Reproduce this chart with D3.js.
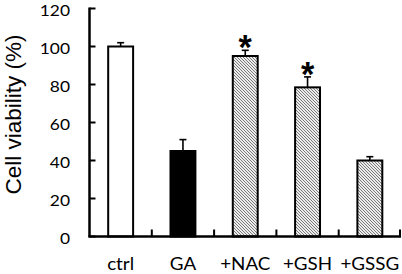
<!DOCTYPE html>
<html><head><meta charset="utf-8">
<script src="https://cdn.jsdelivr.net/npm/d3@7"></script>
<style>html,body{margin:0;padding:0;background:#fff;}svg{display:block;}</style>
</head><body>
<script>
const categories = ["ctrl", "GA", "+NAC", "+GSH", "+GSSG"];
const values = [100, 45, 95, 78.5, 40];
const errors = [2, 6, 3, 5.5, 2];
const fills = ["white", "black", "hatch", "hatch", "hatch"];
const significant = [false, false, true, true, false];
const yTicks = [0, 20, 40, 60, 80, 100, 120];
const yLabel = "Cell viability (%)";

const W = 402, H = 274;
const svg = d3.select("body").append("svg").attr("width", W).attr("height", H);

const defs = svg.append("defs");
const pat = defs.append("pattern").attr("id", "hatch").attr("patternUnits", "userSpaceOnUse")
  .attr("width", 3).attr("height", 3);
pat.append("rect").attr("width", 3).attr("height", 3).attr("fill", "#ececec");
pat.append("path").attr("d", "M-1,-1 L4,4 M-1,2 L1,4 M2,-1 L4,1").attr("stroke", "#7a7a7a").attr("stroke-width", 1);

const x0 = 89.5, x1 = 401;
const y = d3.scaleLinear().domain([0, 120]).range([236.5, 8.5]);
const x = d3.scaleBand().domain(categories).range([x0, x1]).paddingInner(0.6).paddingOuter(0.3);
const step = x.step();

// measure asterisk ink
const starFont = "bold 100px 'Liberation Sans'";
const ctx = document.createElement("canvas").getContext("2d");
ctx.font = starFont;
const m = ctx.measureText("*");
const inkTop = m.actualBoundingBoxAscent, inkBot = -m.actualBoundingBoxDescent;
let inkH = inkTop - inkBot;
if (!(inkH > 1)) inkH = 30;
const starSize = 100 * 13 / inkH;
const starCenterAbove = ((inkTop + inkBot) / 2) * starSize / 100 || starSize * 0.58;

// bars
const g = svg.append("g");
categories.forEach((c, i) => {
  const cx = x(c) + x.bandwidth() / 2;
  const capY = y(values[i] + errors[i]);
  g.append("line").attr("x1", cx).attr("x2", cx).attr("y1", y(values[i])).attr("y2", capY)
    .attr("stroke", "black").attr("stroke-width", 1.6);
  g.append("line").attr("x1", cx - 3.5).attr("x2", cx + 3.5).attr("y1", capY).attr("y2", capY)
    .attr("stroke", "black").attr("stroke-width", 1.6);
  g.append("rect").attr("x", x(c)).attr("y", y(values[i])).attr("width", x.bandwidth())
    .attr("height", y(0) - y(values[i]))
    .attr("fill", fills[i] === "hatch" ? "url(#hatch)" : fills[i])
    .attr("stroke", "black").attr("stroke-width", 2);
  if (significant[i]) {
    const centerY = capY - 8.5;
    g.append("text").attr("x", cx).attr("y", centerY + starCenterAbove)
      .attr("text-anchor", "middle").attr("font-family", "Liberation Sans").attr("font-weight", "bold")
      .attr("font-size", starSize).attr("fill", "black").text("*");
  }
});

// y axis
const yAxis = svg.append("g");
yAxis.append("line").attr("x1", x0).attr("x2", x0).attr("y1", y(120) - 1).attr("y2", y(0))
  .attr("stroke", "black").attr("stroke-width", 2.5);
yTicks.forEach(t => {
  yAxis.append("line").attr("x1", x0).attr("x2", x0 + 6).attr("y1", y(t)).attr("y2", y(t))
    .attr("stroke", "black").attr("stroke-width", 2);
  yAxis.append("text").attr("transform", "translate(70," + (y(t) + 7.4) + ") scale(1.1,1)")
    .attr("text-anchor", "end")
    .attr("font-family", "Lato").attr("font-size", 15.8).attr("fill", "black").text(t);
});

// x axis
const xAxis = svg.append("g");
xAxis.append("line").attr("x1", x0 - 1.25).attr("x2", x1).attr("y1", y(0)).attr("y2", y(0))
  .attr("stroke", "black").attr("stroke-width", 2.5);
categories.forEach((c, i) => {
  const bx = Math.min(x0 + (i + 1) * step, x1 - 1);
  xAxis.append("line").attr("x1", bx).attr("x2", bx).attr("y1", y(0)).attr("y2", y(0) - 7)
    .attr("stroke", "black").attr("stroke-width", 2);
  xAxis.append("text")
    .attr("transform", "translate(" + (x(c) + x.bandwidth() / 2) + ",269.5) scale(1.14,1)")
    .attr("text-anchor", "middle")
    .attr("font-family", "Lato").attr("font-size", 16.5).attr("fill", "black").text(c);
});

// y label
svg.append("text").attr("transform", "translate(20.5,114.5) rotate(-90)")
  .attr("text-anchor", "middle").attr("font-family", "Liberation Sans").attr("font-size", 22.5)
  .attr("fill", "black").text(yLabel);
</script>
</body></html>
